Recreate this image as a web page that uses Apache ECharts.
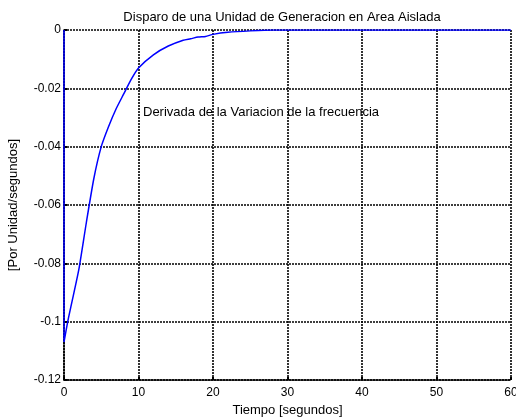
<!DOCTYPE html>
<html>
<head>
<meta charset="utf-8">
<script src="https://cdn.jsdelivr.net/npm/echarts@6/dist/echarts.min.js"></script>
<style>
  html, body { margin: 0; padding: 0; background: #fff; }
  #chart { width: 516px; height: 419px; }
</style>
</head>
<body>
<div id="chart"></div>
<script>
// tiempo (s) y derivada de la variacion de frecuencia (pu/s)
const tiempo = [0, 0, 0.5, 1, 2, 3, 4, 5, 6, 7, 8, 9, 10, 12, 14, 16, 17, 18, 19, 20, 22, 25, 28, 60];
const derivada = [0, -0.107, -0.1, -0.094, -0.082, -0.066, -0.051, -0.04, -0.033, -0.027, -0.022, -0.017, -0.013, -0.0085, -0.0055, -0.0035, -0.003, -0.0024, -0.0022, -0.0015, -0.0008, -0.0003, 0, 0];
const ticksY = [0, -0.02, -0.04, -0.06, -0.08, -0.1, -0.12];

const titulo = "Disparo de una Unidad de Generacion en Area Aislada";
const nota = "Derivada de la Variacion de la frecuencia";

const chart = echarts.init(document.getElementById("chart"));
const punteado = { color: "#000", width: 1.6, type: [2, 1] };
const fuente = "Liberation Sans, Arial, sans-serif";

chart.setOption({
  backgroundColor: "#fff",
  animation: false,
  title: {
    text: titulo,
    left: 277, top: 6, textAlign: "center",
    textStyle: { fontFamily: fuente, fontSize: 13, fontWeight: "normal", color: "#000" }
  },
  grid: { left: 64, right: 5, top: 30, bottom: 39, outerBoundsMode: "none" },
  xAxis: {
    type: "value", min: 0, max: 60, interval: 10,
    name: "Tiempo [segundos]", nameLocation: "middle", nameGap: 23,
    nameTextStyle: { fontFamily: fuente, fontSize: 13, color: "#000" },
    axisLine: { show: true, onZero: false, lineStyle: punteado },
    axisTick: { show: true, inside: true, length: 3, lineStyle: { color: "#000", width: 2 } },
    axisLabel: { fontFamily: fuente, fontSize: 12, color: "#000", margin: 7 },
    splitLine: { show: true, lineStyle: punteado }
  },
  yAxis: {
    type: "value", min: -0.12, max: 0, interval: 0.02,
    name: "[Por Unidad/segundos]", nameLocation: "middle", nameGap: 44, nameRotate: 90,
    nameTextStyle: { fontFamily: fuente, fontSize: 13, color: "#000" },
    axisLine: { show: true, onZero: false, lineStyle: punteado },
    axisTick: { show: true, inside: true, length: 3, lineStyle: { color: "#000", width: 2 } },
    axisLabel: {
      fontFamily: fuente, fontSize: 12, color: "#000", margin: 3,
      formatter: v => {
        const r = Math.round(v * 100) / 100;
        return ticksY.includes(r) ? String(r) : "";
      }
    },
    splitLine: { show: true, lineStyle: punteado }
  },
  graphic: [{
    type: "text", left: 143, top: 106,
    style: { text: nota, fontFamily: fuente, fontSize: 13, fill: "#000" }
  }],
  series: [{
    type: "line",
    data: tiempo.map((t, i) => [t, derivada[i]]),
    smooth: 0.2,
    symbol: "none",
    lineStyle: { color: "#0000ff", width: 1.5 },
    z: 5
  }]
});
</script>
</body>
</html>
